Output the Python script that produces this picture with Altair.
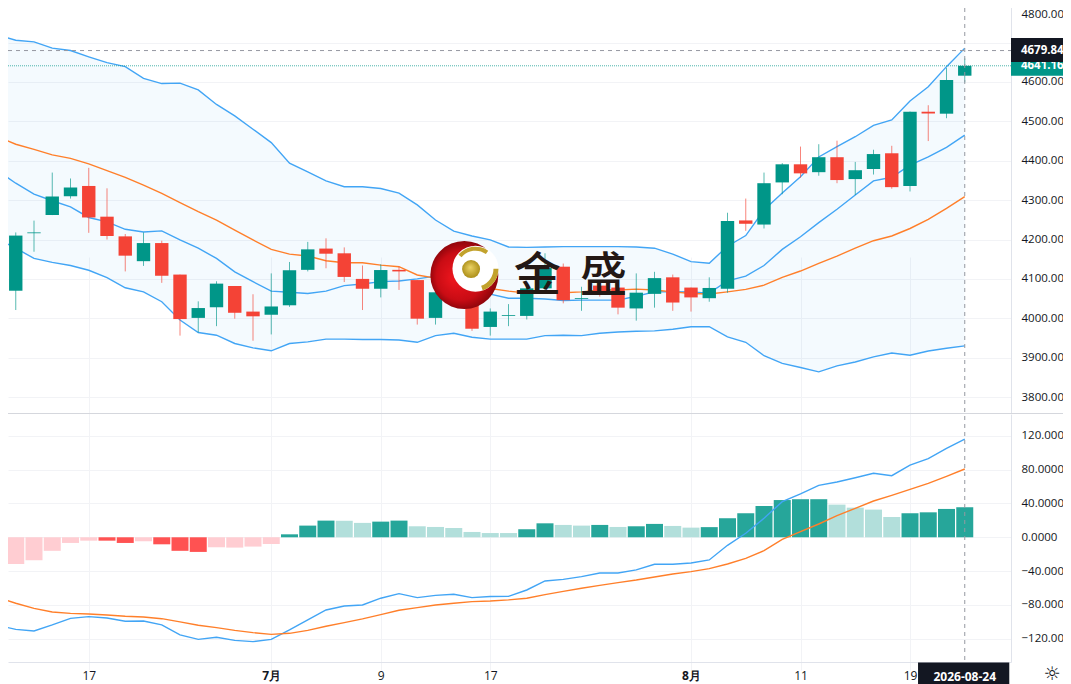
import altair as alt
import pandas as pd

FONT = "Open Sans"
INK = "#131722"
UP = "#009688"
DOWN = "#f44336"
BLUE = "#42a5f5"
ORANGE = "#ff7f2a"
GRID = "#f2f3f6"
EDGE = "#e0e3eb"

opens = [4258,4070,4216,4262,4310,4336,4258,4208,4145,4191,4111,4001,4028,4082,4017,4009,4033,4123,4177,4165,
         4100,4075,4123,4097,4001,4045,4050,3978,4006,4006,4076,4131,4049,4083,4078,4025,4062,4104,4078,4051,
         4075,4248.5,4238,4345,4391,4371,4409,4353.5,4379,4419,4336,4524.5,4519.5,4616]
closes = [4070,4210,4218,4309.5,4332,4256,4209,4159,4191,4108,3998,4026,4088,4014,4005,4030,4122,4175,4164,4105,
          4075,4122.5,4119,3999,4066,4090,3973.5,4017,4008,4076,4128,4046,4051,4062,4027,4065,4102,4040,4053,4077,
          4247,4240,4343,4391,4368,4409,4351,4376,4417,4333,4524.5,4520,4605,4641.16]
highs = [4262,4218,4248,4370,4355,4382,4330,4214,4218,4197,4111,4043,4094,4082,4061,4114,4143,4194,4203,4180,
         4134,4137,4131,4097,4090,4100,4060,4025,4036,4085,4165,4139,4080,4090,4085,4114,4118,4111,4078,4104,
         4268,4304,4370,4394,4436,4442,4451,4397,4428,4438,4525,4541,4636,4660]
lows = [4068,4021,4169,4262,4304,4217,4200,4119,4133,4090,3956,3964,3980,3999,3943,3959,4029,4119,4127,4092,
        4021,4053,4072,3984,3984,4030,3968,3956,3980,3997,4070,4038,4019,4055,4010,3994,4027,4019,4017,4042,
        4065,4222,4228,4315,4357,4362,4343,4313,4365,4329,4322,4450,4508,4599]

bb_upper = [4719,4706,4702,4686,4680,4664,4649,4639,4609,4596,4597,4580,4543,4514,4480,4446,4394,4372,4349,4334,
            4334,4329.5,4318,4288,4249.5,4221.5,4209,4199,4181,4180,4181,4182,4182,4182,4182,4181,4178,4163,4144,4140,
            4183,4210,4275,4318,4359.5,4409.5,4436,4461,4490,4503.5,4552,4588,4639,4686]
bb_inner = [4375,4343,4315.5,4298.5,4283,4256,4245,4226,4219,4222,4199,4178,4152,4118,4093,4069,4066,4063,4069,4083,
            4087,4093,4094.5,4100,4107,4092,4077,4061.5,4051,4051,4049,4045,4046,4046,4046,4056,4067,4067.5,4067,4064,
            4095,4107,4134,4175,4207,4243,4277,4313,4349,4358,4389,4410,4434,4465]
ma_line = [4461,4442,4429,4415,4406,4392,4375,4358,4338,4317,4294,4271,4249.5,4224,4199,4175,4163,4158,4146,4141,
           4141,4135,4131,4110,4102,4092,4084,4075.5,4069,4064,4064,4065,4067,4072,4072,4074,4072,4067,4063,4061.5,
           4067,4073.5,4084,4104,4120,4139.5,4158,4178,4197,4209,4228,4251,4279,4309]
bb_lower = [4201,4178,4152,4142,4134,4122,4103,4077.5,4067,4042,3995.5,3964,3957,3936,3925,3917.5,3936,3940,3947,3947,
            3946,3946,3945,3939,3956,3962,3952,3947,3947,3947,3956,3957,3956,3962,3965,3967,3968,3972,3978.5,3978.5,
            3953,3939,3905,3885.5,3875,3864,3879,3889,3902,3912,3906,3917,3924,3930]

macd_hist = [-34.7,-31.5,-27,-16,-6.7,-4,-4,-6.7,-4.7,-8.3,-16,-17.3,-11.8,-12.2,-11,-7.9,3.5,13.8,19.7,19.5,
             17,18.5,19.7,13,12.2,11,6.3,5,5,9.5,16.5,14.6,13.8,14.6,12.2,13,15.8,13.4,11.4,12,
             22.5,28.4,37,44,45,45,38.6,35,32.7,24,28.4,29.5,33.5,35.5]
hist_state = ["ds","dw","dw","dw","dw","dw","ds","ds","dw","ds","ds","ds","dw","dw","dw","dw","us","us","us","uw",
              "uw","us","us","uw","uw","uw","uw","uw","uw","us","us","uw","uw","us","uw","us","us","uw","uw","us",
              "us","us","us","us","us","us","uw","uw","uw","uw","us","us","us","us"]
macd_line = [-104,-108.8,-110.7,-103.6,-95.8,-93.8,-95.4,-99.3,-98.9,-103.6,-115.4,-120.6,-118.2,-121.8,-123.3,-120.6,-109.5,-97.7,-85.9,-81.2,
             -80,-72,-66.6,-71.3,-68.6,-67.4,-71.3,-70,-69.8,-62.3,-51.6,-49.7,-46.5,-42.2,-42.2,-38.6,-31.9,-31.9,-30.4,-26.8,
             -9.5,4.7,22.4,42.1,51.2,61.4,65.3,70.4,75.6,72.8,85.4,92.9,105.1,116.1]
signal_line = [-70.9,-78,-84,-88.3,-89.9,-90.6,-91.8,-93.4,-94.2,-96.2,-100,-104,-106.8,-110,-112.7,-114.7,-113.5,-110,-105.2,-100.9,
               -96.5,-91.4,-86.3,-83.1,-80,-78,-76,-75.3,-74,-72,-67.8,-63.9,-60.3,-56.8,-53.6,-50.5,-46.9,-43.4,-40.6,-37,
               -31.6,-24.9,-15.8,-2.4,6.6,15.7,25.6,34.2,42.9,49.6,56.7,63.8,72,80.7]

tick_index = [5, 15, 21, 27, 38, 44, 50]
tick_text = ["17", "7月", "9", "17", "8月", "11", "19"]
price_ticks = [3800, 3900, 4000, 4100, 4200, 4300, 4400, 4500, 4600, 4700, 4800]
macd_ticks = [-120, -80, -40, 0, 40, 80, 120]
cross_price = 4679.84
last_price = 4641.16
cross_date = "2026-08-24"

n = len(opens)
df = pd.DataFrame({
    "i": list(range(n)), "open": opens, "close": closes, "high": highs, "low": lows,
    "upper": bb_upper, "inner": bb_inner, "ma": ma_line, "lower": bb_lower,
    "hist": macd_hist, "state": hist_state, "macd": macd_line, "signal": signal_line,
})
df["dir"] = ["up" if c >= o else "down" for o, c in zip(opens, closes)]

x_scale = alt.Scale(domain=[0.5753, 55.534], nice=False, zero=False, padding=0)
price_scale = alt.Scale(domain=[3759.5, 4808.2], range=[405, -8], nice=False, zero=False, padding=0)
macd_scale = alt.Scale(domain=[-147.4, 145.7], range=[654, 406], nice=False, zero=False, padding=0)

label_map = "{" + ",".join(f"{a}:'{b}'" for a, b in zip(tick_index, tick_text)) + "}"
x_axis = alt.Axis(values=tick_index, labelExpr=f"{label_map}[datum.value]", title=None, grid=True,
                  gridColor=GRID, gridWidth=1, ticks=False, domain=True, domainColor=EDGE, labelPadding=8,
                  labelFont=FONT, labelFontSize=12, labelColor=INK, labelFlush=False, labelOverlap=False,
                  labelFontWeight={"condition": {"test": "datum.value==15||datum.value==38", "value": "bold"}, "value": "normal"})

def y_axis(vals, expr, **kw):
    return alt.Axis(orient="right", values=vals, labelExpr=expr, title=None, grid=True, gridColor=GRID, gridWidth=1,
                    ticks=False, domain=True, domainColor=EDGE, labelPadding=10, labelAlign="left",
                    labelFont=FONT, labelFontSize=11.5, labelColor=INK, labelOverlap=False, labelFlush=False, **kw)

price_axis = y_axis(price_ticks, "datum.value==4700?'':format(datum.value,'.2f')",
                    labelOffset={"condition": {"test": "datum.value==4800", "value": 11.5}, "value": 0})
macd_axis = y_axis(macd_ticks, "substring(format(datum.value,'.4f'),0,7)")

XF = lambda f="i": alt.X(f"{f}:Q", scale=x_scale, axis=x_axis)
PY = lambda f: alt.Y(f"{f}:Q", scale=price_scale, axis=price_axis)
MY = lambda f: alt.Y(f"{f}:Q", scale=macd_scale, axis=macd_axis)
dir_color = alt.Color("dir:N", scale=alt.Scale(domain=["up", "down"], range=[UP, DOWN]), legend=None)

base = alt.Chart(df)

band = base.mark_area(color="#2196f3", opacity=0.05).encode(x=XF(), y=PY("upper"), y2="lower:Q")
def pline(f, c):
    return base.mark_line(color=c, strokeWidth=1.4).encode(x=XF(), y=PY(f))
wicks = base.mark_rule(strokeWidth=1, opacity=0.65).encode(x=XF(), y=PY("low"), y2="high:Q", color=dir_color)
bodies = base.mark_bar(size=13.4, cornerRadius=0).encode(x=XF(), y=PY("open"), y2="close:Q", color=dir_color)

def one(**kw):
    return alt.Chart(pd.DataFrame([kw]))

guide_x_end = 55.534
label_x = 56.08
tag_right = 58.9

cross_h = one(a=0.5753, b=guide_x_end, p=cross_price).mark_rule(color="#9598a1", strokeDash=[4, 4], strokeWidth=1).encode(
    x=XF("a"), x2="b:Q", y=PY("p"))
last_h = one(a=0.5753, b=guide_x_end, p=last_price).mark_rule(color=UP, strokeDash=[1, 1], strokeWidth=1, opacity=0.7).encode(
    x=XF("a"), x2="b:Q", y=PY("p"))

def tag(value, lo, hi, color):
    rect = one(a=guide_x_end, b=tag_right, p=lo, q=hi).mark_rect(color=color).encode(
        x=XF("a"), x2="b:Q", y=PY("p"), y2="q:Q")
    text = one(a=label_x, p=value, t=f"{value:.2f}").mark_text(
        align="left", baseline="middle", color="white", font=FONT, fontSize=11.5, fontWeight="bold").encode(
        x=XF("a"), y=PY("p"), text="t:N")
    return rect + text

green_tag = tag(last_price, 4616, 4652, UP)
black_tag = tag(cross_price, 4650.8, 4711.8, INK)

# Logo, drawn over the candles
logo_red = one(a=25.58, p=4110).mark_circle(size=4624, opacity=1, color=alt.RadialGradient(
    gradient="radial", x1=0.35, y1=0.55, x2=0.5, y2=0.5, r1=0.05, r2=0.55,
    stops=[alt.GradientStop(color="#e8141c", offset=0), alt.GradientStop(color="#c90c14", offset=0.6),
           alt.GradientStop(color="#7d0309", offset=1)])).encode(x=XF("a"), y=PY("p"))
logo_hole = one(a=26.19, p=4126).mark_circle(size=2116, opacity=1, color="white").encode(x=XF("a"), y=PY("p"))
logo_ball = one(a=25.95, p=4125).mark_circle(size=324, opacity=1, color=alt.RadialGradient(
    gradient="radial", x1=0.45, y1=0.4, x2=0.5, y2=0.5, r1=0, r2=0.55,
    stops=[alt.GradientStop(color="#ecd465", offset=0), alt.GradientStop(color="#a88a14", offset=1)])).encode(
    x=XF("a"), y=PY("p"))
arc_a = one(a=26.19, p=4126).mark_arc(radius=22, radius2=18, theta=5.4, theta2=6.9, color="#c2a22c").encode(
    x=XF("a"), y=PY("p"))
arc_b = one(a=26.19, p=4126).mark_arc(radius=23, radius2=18, theta=1.57, theta2=2.82, color="#c2a22c").encode(
    x=XF("a"), y=PY("p"))
brand = alt.Chart(pd.DataFrame({"a": [29.58, 33.2], "p": [4105, 4105], "t": ["金", "盛"]})).mark_text(
    font="Noto Sans CJK SC", fontSize=47, fontWeight=500, color="#231815", baseline="middle", align="center").encode(
    x=XF("a"), y=PY("p"), text="t:N")

price_group = alt.layer(band, pline("upper", BLUE), pline("inner", BLUE), pline("lower", BLUE),
                        pline("ma", ORANGE), wicks, bodies, last_h, cross_h, green_tag, black_tag,
                        logo_red, logo_hole, logo_ball, arc_a, arc_b, brand)

hist = base.mark_bar(size=17).encode(
    x=XF(), y=MY("hist"), y2=alt.datum(0),
    color=alt.Color("state:N", scale=alt.Scale(domain=["us", "uw", "ds", "dw"],
                                               range=["#26a69a", "#b2dfdb", "#ff5252", "#ffcdd2"]), legend=None))
m_line = base.mark_line(color=BLUE, strokeWidth=1.4).encode(x=XF(), y=MY("macd"))
s_line = base.mark_line(color=ORANGE, strokeWidth=1.4).encode(x=XF(), y=MY("signal"))
separator = one(a=0.5753, b=tag_right).mark_rule(color="#d5d7dd", strokeWidth=1).encode(
    x=XF("a"), x2="b:Q", y=alt.value(405.5))
cross_v = one(a=n - 1).mark_rule(color="#9598a1", strokeDash=[4, 4], strokeWidth=1).encode(
    x=XF("a"), y=alt.value(0), y2=alt.value(654))
date_rect = one(a=50.44, b=55.44).mark_rect(color=INK).encode(
    x=XF("a"), x2="b:Q", y=alt.value(654.5), y2=alt.value(676))
date_text = one(a=n - 1, t=cross_date).mark_text(
    color="white", font=FONT, fontSize=12, fontWeight="bold", baseline="middle", align="center").encode(
    x=XF("a"), y=alt.value(669), text="t:N")
sun = one(a=57.78, t="☼").mark_text(font="DejaVu Sans", fontSize=19, color=INK, baseline="middle", align="center").encode(
    x=XF("a"), y=alt.value(666), text="t:N")

macd_group = alt.layer(hist, m_line, s_line, separator, cross_v, date_rect, date_text, sun)

chart = alt.layer(price_group, macd_group).resolve_scale(y="independent", color="independent").properties(
    width=1003, height=654,
    autosize=alt.AutoSizeParams(type="none"),
    padding={"left": 0, "top": 0, "right": 52, "bottom": 22},
    background="white",
).configure_view(strokeWidth=0)

chart.save("out.html", embed_options={"renderer": "svg", "actions": False})
